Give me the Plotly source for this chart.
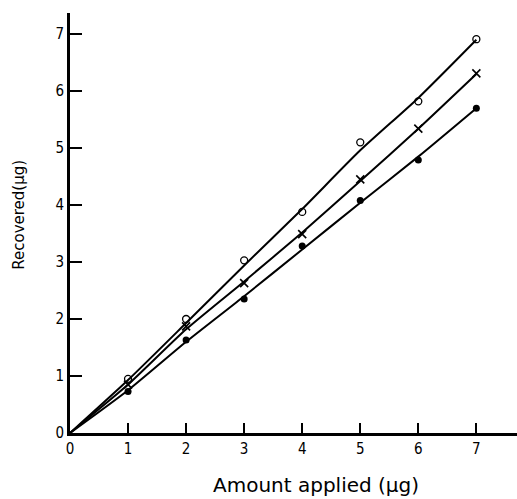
import plotly.graph_objects as go

x_pts = [1, 2, 3, 4, 5, 6, 7]
open_pts = [0.95, 2.0, 3.03, 3.88, 5.1, 5.82, 6.91]
cross_pts = [0.85, 1.87, 2.63, 3.49, 4.45, 5.34, 6.31]
filled_pts = [0.73, 1.63, 2.35, 3.28, 4.08, 4.79, 5.70]

# Drawn curves
x_line = [0, 1, 2, 3, 4, 5, 6, 7]
open_line = [0, 0.93, 1.93, 2.94, 3.93, 4.96, 5.88, 6.9]
cross_line = [0, 0.85, 1.82, 2.66, 3.52, 4.42, 5.34, 6.3]
filled_line = [0, 0.75, 1.6, 2.4, 3.22, 4.04, 4.85, 5.7]

tick_vals = [0, 1, 2, 3, 4, 5, 6, 7]
tick_text = ["0", "1", "2", "3", "4", "5", "6", "7"]

fig = go.Figure()
for yl in (open_line, cross_line, filled_line):
    fig.add_trace(go.Scatter(x=x_line, y=yl, mode="lines", line=dict(color="black", width=2, shape="spline", smoothing=0.6),
                             showlegend=False, hoverinfo="skip"))

fig.add_trace(go.Scatter(x=x_pts, y=open_pts, mode="markers",
                         marker=dict(symbol="circle-open", size=7, color="black", line=dict(width=1.3, color="black")),
                         showlegend=False))
fig.add_trace(go.Scatter(x=x_pts, y=cross_pts, mode="markers",
                         marker=dict(symbol="x-thin", size=8, color="black", line=dict(width=1.6, color="black")),
                         showlegend=False))
fig.add_trace(go.Scatter(x=x_pts, y=filled_pts, mode="markers",
                         marker=dict(symbol="circle", size=7, color="black"),
                         showlegend=False))

tick_font = dict(size=15, family="DejaVu Sans Condensed, DejaVu Sans, sans-serif", color="black")

fig.update_layout(
    width=517, height=499,
    margin=dict(l=70, r=0, t=13, b=66),
    paper_bgcolor="white", plot_bgcolor="white",
    font=dict(family="DejaVu Sans, sans-serif", color="black"),
    xaxis=dict(range=[0, 7.7], tickvals=tick_vals, ticktext=tick_text,
               ticks="inside", ticklen=10, tickwidth=1.5, tickcolor="black",
               showline=True, linewidth=3, linecolor="black",
               showgrid=False, zeroline=False, tickfont=tick_font),
    yaxis=dict(range=[0, 7.37], tickvals=tick_vals, ticktext=tick_text,
               ticks="inside", ticklen=12, tickwidth=1.5, tickcolor="black",
               showline=True, linewidth=3, linecolor="black",
               showgrid=False, zeroline=False, tickfont=tick_font),
    annotations=[
        dict(text="Amount applied (\u03bcg)", xref="paper", yref="paper", x=0.55, y=-0.124,
             xanchor="center", yanchor="middle", showarrow=False,
             font=dict(size=20, family="DejaVu Sans, sans-serif", color="black")),
        dict(text="Recovered(\u03bcg)", xref="paper", yref="paper", x=-0.116, y=0.52,
             xanchor="center", yanchor="middle", textangle=-90, showarrow=False,
             font=dict(size=15, family="DejaVu Sans, sans-serif", color="black")),
    ],
)

fig.write_html("out.html")
